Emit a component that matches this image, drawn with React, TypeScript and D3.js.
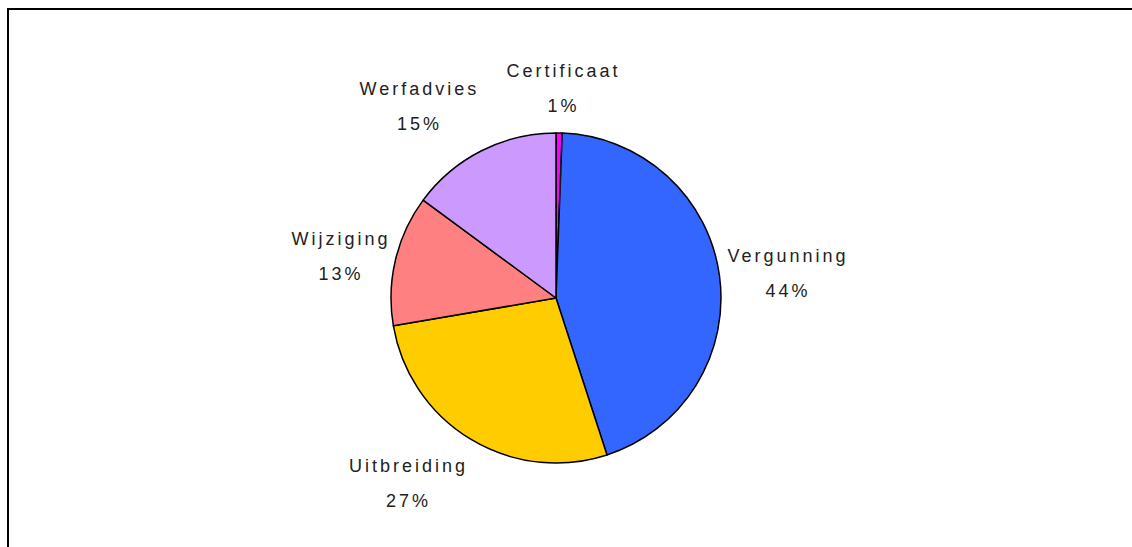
import * as d3 from 'd3';
import { useRef, useEffect } from 'react';

const categories = ['Certificaat', 'Vergunning', 'Uitbreiding', 'Wijziging', 'Werfadvies'];
const values = [0.6, 44.4, 27.3, 12.8, 14.9];
const colors = ['#FF00FF', '#3366FF', '#FFCC00', '#FF8080', '#CC99FF'];

const PieChart = () => {
  const svgRef = useRef<SVGSVGElement>(null);

  useEffect(() => {
    const svg = d3.select(svgRef.current);
    const width = 1132;
    const height = 547;
    const cx = 556;
    const cy = 298;
    const radius = 165;

    svg.attr('width', width).attr('height', height);
    svg.selectAll('*').remove();

    // frame (cropped at right and bottom)
    svg.append('rect')
      .attr('x', 8)
      .attr('y', 9)
      .attr('width', width + 20)
      .attr('height', height + 20)
      .attr('fill', 'none')
      .attr('stroke', '#000')
      .attr('stroke-width', 2);

    const data = categories.map((name, i) => ({ name, value: values[i], color: colors[i] }));
    const total = d3.sum(values);

    const pie = d3.pie<any>().sort(null).value(d => d.value);
    const arcs = pie(data);

    const arc = d3.arc<any>().innerRadius(0).outerRadius(radius);

    const g = svg.append('g').attr('transform', `translate(${cx},${cy})`);

    g.selectAll('path')
      .data(arcs)
      .enter().append('path')
      .attr('d', arc)
      .attr('fill', d => d.data.color)
      .attr('stroke', '#000')
      .attr('stroke-width', 1.5)
      .attr('stroke-linejoin', 'round');

    const fontSize = 18;
    const lineGap = 35;
    const letterSpacing = 3;
    const labelR = radius + 5;
    const boxH = 80;
    const clamp = (v: number) => Math.max(-1, Math.min(1, v));

    const labels = g.selectAll('g.label')
      .data(arcs)
      .enter().append('g')
      .attr('class', 'label');

    labels.each(function (d) {
      const sel = d3.select(this);
      const mid = (d.startAngle + d.endAngle) / 2;
      const sin = Math.sin(mid);
      const cos = Math.cos(mid);
      const ax = labelR * sin;
      const ay = -labelR * cos;

      const t = sel.append('text')
        .attr('text-anchor', 'middle')
        .style('font-family', '"Liberation Sans", Arial, sans-serif')
        .style('font-size', fontSize + 'px')
        .style('letter-spacing', letterSpacing + 'px')
        .attr('fill', '#222');
      t.append('tspan').attr('x', letterSpacing / 2).attr('y', 0).text(d.data.name);
      t.append('tspan').attr('x', letterSpacing / 2).attr('y', lineGap).text(`${Math.round(d.data.value / total * 100)}%`);

      const bb = (t.node() as SVGTextElement).getBBox();
      const w = bb.width - letterSpacing + 6;
      const sx = clamp(sin * 2.5);
      const sy = -Math.sign(cos) * Math.min(1, cos * cos * 1.5);
      const bx = ax + (w / 2) * sx;
      const by = ay + (boxH / 2) * sy;
      const top = by - (lineGap + fontSize * 0.72) / 2;
      sel.attr('transform', `translate(${bx},${top + fontSize * 0.72})`);
    });
  }, []);

  return (
    <div style={{ position: 'absolute', left: 0, top: 0 }}>
      <svg ref={svgRef} style={{ display: 'block' }}></svg>
    </div>
  );
};

export default function App() {
  return <PieChart />;
}
